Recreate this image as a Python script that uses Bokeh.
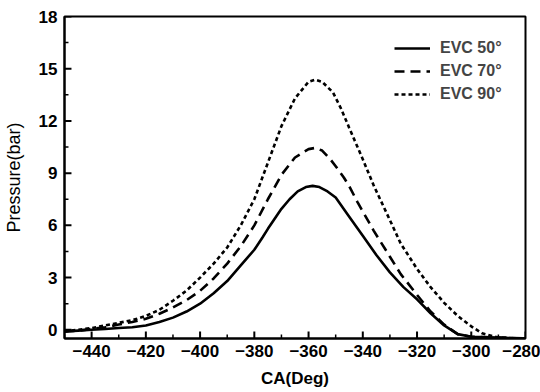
from bokeh.plotting import figure
from bokeh.models import Range1d, Legend, LegendItem, FixedTicker
from bokeh.embed import file_html
from bokeh.resources import INLINE

# EVC 50 (solid)
x50 = [-450, -445, -440, -435, -430, -425, -420, -415, -410, -405, -400, -395, -390, -385, -380,
       -377, -375, -372, -370, -367, -364, -361, -358.5, -356, -353, -350, -345, -340, -335, -330,
       -325, -320, -315, -310, -305, -300, -290, -280]
y50 = [-0.1, -0.05, 0.0, 0.05, 0.1, 0.15, 0.25, 0.45, 0.7, 1.05, 1.5, 2.1, 2.8, 3.7, 4.6,
       5.3, 5.8, 6.5, 6.95, 7.5, 7.95, 8.2, 8.27, 8.2, 7.95, 7.6, 6.5, 5.4, 4.3, 3.3,
       2.45, 1.75, 0.95, 0.25, -0.25, -0.4, -0.45, -0.5]

# EVC 70 (dashed)
x70 = [-450, -445, -440, -435, -430, -425, -420, -415, -410, -405, -400, -395, -390, -385, -380,
       -375, -370, -365, -360, -357.5, -355, -352, -350, -347, -345, -342, -340, -336, -330,
       -326, -320, -315, -310, -305, -300, -290, -280]
y70 = [-0.1, -0.05, 0.05, 0.15, 0.3, 0.45, 0.63, 0.92, 1.28, 1.7, 2.24, 2.95, 3.8, 4.8, 6.0,
       7.5, 8.9, 9.9, 10.38, 10.45, 10.3, 9.8, 9.4, 8.75, 8.25, 7.35, 6.8, 5.7, 4.2,
       3.2, 2.0, 1.05, 0.3, -0.25, -0.4, -0.45, -0.5]

# EVC 90 (dotted)
x90 = [-450, -445, -440, -435, -430, -425, -420, -415, -410, -405, -400, -395, -390, -385, -380,
       -375, -370, -365, -360, -357.5, -355, -351, -348, -345, -340, -336, -330, -326, -320,
       -315, -310, -305, -300, -296, -290, -280]
y90 = [-0.1, 0.0, 0.1, 0.25, 0.4, 0.55, 0.8, 1.15, 1.67, 2.25, 3.0, 3.8, 4.73, 6.0, 7.5,
       9.6, 11.7, 13.3, 14.25, 14.37, 14.25, 13.64, 12.7, 11.6, 9.8, 8.3, 6.3, 4.95, 3.5,
       2.45, 1.55, 0.8, 0.2, -0.2, -0.45, -0.5]

labels = ["EVC 50°", "EVC 70°", "EVC 90°"]
x_ticks = [-440, -420, -400, -380, -360, -340, -320, -300, -280]
x_minor = [-450, -430, -410, -390, -370, -350, -330, -310, -290]
y_ticks = [0, 3, 6, 9, 12, 15, 18]
y_minor = [1.5, 4.5, 7.5, 10.5, 13.5, 16.5]
x_lo, x_hi = -450, -280
y_lo, y_hi = -0.5, 18

W, H = 540, 392
left, right, top, bottom = 62, 15, 16, 54
fw, fh = W - left - right, H - top - bottom
xu = (x_hi - x_lo) / fw   # data units per pixel
yu = (y_hi - y_lo) / fh

p = figure(width=W, height=H, output_backend="svg", toolbar_location=None,
           x_range=Range1d(x_lo, x_hi), y_range=Range1d(y_lo, y_hi))
p.min_border_left = left
p.min_border_right = right
p.min_border_top = top
p.min_border_bottom = bottom
p.background_fill_color = "white"
p.border_fill_color = "white"
p.grid.visible = False
p.outline_line_color = "black"
p.outline_line_width = 2

r1 = p.line(x50, y50, line_color="black", line_width=2.6)
r2 = p.line(x70, y70, line_color="black", line_width=2.6, line_dash="10 6")
r3 = p.line(x90, y90, line_color="black", line_width=2.6, line_dash="4 3")

# inward tick marks
p.segment(x0=x_ticks, y0=[y_lo] * len(x_ticks), x1=x_ticks, y1=[y_lo + 7 * yu] * len(x_ticks),
          line_color="black", line_width=2)
p.segment(x0=x_minor, y0=[y_lo] * len(x_minor), x1=x_minor, y1=[y_lo + 4 * yu] * len(x_minor),
          line_color="black", line_width=1.5)
p.segment(x0=[x_lo] * len(y_ticks), y0=y_ticks, x1=[x_lo + 7 * xu] * len(y_ticks), y1=y_ticks,
          line_color="black", line_width=2)
p.segment(x0=[x_lo] * len(y_minor), y0=y_minor, x1=[x_lo + 4 * xu] * len(y_minor), y1=y_minor,
          line_color="black", line_width=1.5)

font = "Liberation Sans"
for ax in (p.xaxis[0], p.yaxis[0]):
    ax.axis_line_width = 2
    ax.axis_line_color = "black"
    ax.major_tick_in = 0
    ax.major_tick_out = 0
    ax.minor_tick_in = 0
    ax.minor_tick_out = 0
    ax.major_label_text_font = font
    ax.major_label_text_font_style = "bold"
    ax.major_label_text_font_size = "17px"
    ax.major_label_text_color = "black"
    ax.axis_label_text_font = font
    ax.axis_label_text_color = "black"

p.xaxis[0].ticker = FixedTicker(ticks=x_ticks)
p.yaxis[0].ticker = FixedTicker(ticks=y_ticks)
p.xaxis[0].axis_label = "CA(Deg)"
p.xaxis[0].axis_label_text_font_style = "bold"
p.xaxis[0].axis_label_text_font_size = "17px"
p.xaxis[0].major_label_standoff = 6
p.xaxis[0].axis_label_standoff = 9
p.yaxis[0].axis_label = "Pressure(bar)"
p.yaxis[0].axis_label_text_font_style = "normal"
p.yaxis[0].axis_label_text_font_size = "18px"
p.yaxis[0].major_label_standoff = 7
p.yaxis[0].axis_label_standoff = 12

legend = Legend(items=[LegendItem(label=labels[0], renderers=[r1]),
                       LegendItem(label=labels[1], renderers=[r2]),
                       LegendItem(label=labels[2], renderers=[r3])],
                location=(330, 234))
legend.border_line_color = None
legend.background_fill_alpha = 0
legend.label_text_font = font
legend.label_text_font_style = "bold"
legend.label_text_font_size = "16px"
legend.glyph_width = 36
legend.glyph_height = 20
legend.label_height = 20
legend.spacing = 3
legend.padding = 5
legend.label_standoff = 10
p.add_layout(legend, "center")

open("out.html", "w").write(file_html(p, INLINE))
